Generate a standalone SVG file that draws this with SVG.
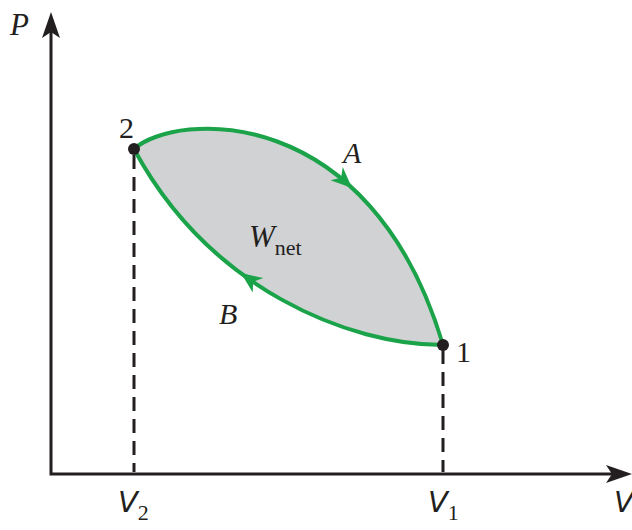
<svg xmlns="http://www.w3.org/2000/svg" width="632" height="530" viewBox="0 0 632 530">
<style>
.ax{stroke:#231f20;stroke-width:3;fill:none}
.dash{stroke:#231f20;stroke-width:3;fill:none;stroke-dasharray:14 8}
.cur{stroke:#1ba34a;stroke-width:4;fill:none}
.arr{fill:#1ba34a}
.t{font-family:"Liberation Serif",serif;fill:#231f20}
.i{font-style:italic}
.v{font-family:"DejaVu Sans",sans-serif;font-style:italic;fill:#231f20}
</style>
<rect width="632" height="530" fill="#fff"/>
<g id="region">
<path d="M134,149 C175,112 370,100 443,345 C350,345 210,290 134,149 Z" fill="#d1d2d4"/>
</g>
<g id="connectors">
<path class="ax" d="M51,22 V474 H620"/>
<polygon points="51,12 42,38 51,32 60,38" fill="#231f20"/>
<polygon points="632,474 606,465 612,474 606,483" fill="#231f20"/>
<path class="dash" d="M134,155 V472"/>
<path class="dash" d="M443,350 V472"/>
<path id="A" class="cur" d="M134,149 C175,112 370,100 443,345"/>
<path id="B" class="cur" d="M443,345 C350,345 210,290 134,149"/>
<polygon class="arr" points="0,0 -21,-9 -15,0 -21,9" transform="translate(352,188) rotate(43)"/>
<polygon class="arr" points="0,0 -21,-9 -15,0 -21,9" transform="translate(241,273) rotate(-144)"/>
</g>
<g id="node2">
<circle cx="134" cy="149" r="6" fill="#231f20"/>
<text class="t" x="119" y="138" font-size="30">2</text>
</g>
<g id="node1">
<circle cx="443" cy="345" r="6" fill="#231f20"/>
<text class="t" x="456" y="362" font-size="30">1</text>
</g>
<g id="labels">
<text class="t i" x="10" y="35" font-size="31">P</text>
<text class="t i" x="343" y="163" font-size="30">A</text>
<text class="t i" x="219" y="324" font-size="30">B</text>
<text class="t i" x="249" y="247" font-size="31">W<tspan font-style="normal" font-size="22" dy="8">net</tspan></text>
<text class="v" x="118" y="512" font-size="29">V<tspan font-style="normal" font-family="Liberation Serif,serif" font-size="22" dy="8">2</tspan></text>
<text class="v" x="428" y="512" font-size="29">V<tspan font-style="normal" font-family="Liberation Serif,serif" font-size="22" dy="8">1</tspan></text>
<text class="v" x="614" y="512" font-size="29">V</text>
</g>
</svg>
